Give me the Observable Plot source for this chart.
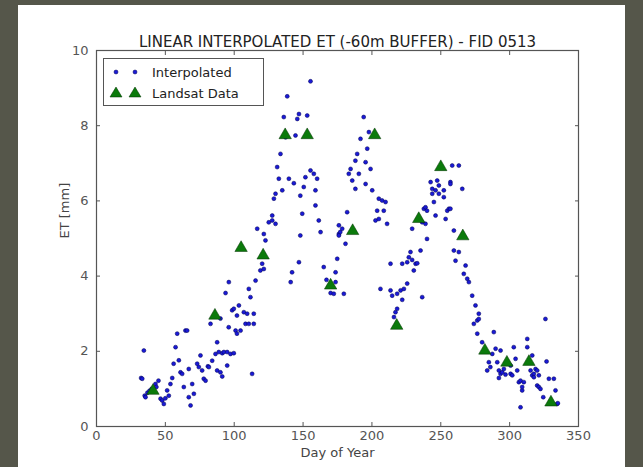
<!DOCTYPE html>
<html>
<head>
<meta charset="utf-8">
<script src="https://cdn.jsdelivr.net/npm/d3@7"></script>
<script src="https://cdn.jsdelivr.net/npm/@observablehq/plot@0.6"></script>
<style>
  html, body { margin: 0; padding: 0; }
  body { width: 643px; height: 467px; background: #55564a; position: relative; overflow: hidden; font-family: "DejaVu Sans", sans-serif; }
  #panel { position: absolute; left: 18px; top: 5px; width: 607px; height: 470px; background: #ffffff; }
  #chart { position: absolute; left: 0; top: 0; }
  #legend { position: absolute; left: 103px; top: 58px; width: 159px; height: 46px; border: 1px solid #555; background: #fff; font-size: 13px; color: #222; }
  #legend .row { position: absolute; left: 0; height: 20px; display: flex; align-items: center; }
  #legend svg { display: block; }
</style>
</head>
<body>
<div id="panel"></div>
<div id="chart"></div>
<div id="legend">
  <div class="row" style="top:3px"><svg width="46" height="20"><circle cx="12" cy="10" r="2" fill="#1a1ad6" stroke="#000050" stroke-width="0.5"/><circle cx="31" cy="10" r="2" fill="#1a1ad6" stroke="#000050" stroke-width="0.5"/></svg><span style="margin-left:2px">Interpolated</span></div>
  <div class="row" style="top:24px"><svg width="46" height="20"><path d="M12,4 L18,14 L6,14 Z" fill="#0b7a0b" stroke="#003000" stroke-width="0.5"/><path d="M31,4 L37,14 L25,14 Z" fill="#0b7a0b" stroke="#003000" stroke-width="0.5"/></svg><span style="margin-left:2px">Landsat Data</span></div>
</div>
<script>
const titleText = "LINEAR INTERPOLATED ET (-60m BUFFER) - FID 0513";
const xLabel = "Day of Year";
const yLabel = "ET [mm]";
const xTicks = [0, 50, 100, 150, 200, 250, 300, 350];
const yTicks = [0, 2, 4, 6, 8, 10];

const landsatDay = [41, 86, 105, 121, 137, 153, 170, 186, 202, 218, 234, 250, 266, 282, 298, 314, 330];
const landsatET  = [0.95, 2.95, 4.75, 4.55, 7.75, 7.75, 3.75, 5.2, 7.75, 2.68, 5.52, 6.9, 5.06, 2.02, 1.7, 1.72, 0.64];

const interpDay = [32.4,33.2,34.4,35,35.6,37,38.5,40,42.8,43.5,45,46.5,47.7,48.9,50,51.3,52.5,53.7,55,56,57.4,58.6,59.8,61,62.2,63.4,64.6,65.8,67,67,68.3,69.5,70.7,73.1,74.3,75.5,76.7,77.9,79.2,80.9,81.6,82.8,84,86.4,87.6,87.6,88.8,90,90,91.3,91.3,92.5,93.7,94.9,94.9,96,96.1,97.3,98.5,99.7,99.7,101,102,102,103.4,104.6,107,108.2,109.4,110.6,110.6,111.8,113,114.2,114.2,115.5,116.7,119,120.3,121.5,121.5,122.7,125.1,127.6,127.6,128.8,130,130,131.2,132.4,133.6,134.9,136,137.3,138.5,139.7,141,142,143.3,144.5,145.8,147,147,148,148,149.4,150.5,151.7,153,155.4,155.4,157.8,159,159,160.2,161.4,162.7,165,167,170,172.3,173.6,173.6,174.8,176,176,177,178.4,176,179.6,180.8,182,183.2,184.5,185.7,188,188,189.3,190.5,191.7,194,195.4,195.4,196.6,197.8,199,200.2,202.6,203.8,205,205,206.2,207.4,208.6,209.9,211,213.5,213.5,214.7,216,217.1,218.3,218.3,220.8,222,222,223.2,225.6,225.6,226.8,228,229.2,229.2,230.4,231.7,232.9,235.3,236.5,236.5,237.7,238.9,238.9,240,240,242.6,243.8,243.8,245,246.2,246.2,247.4,248.6,248.6,252.2,252.2,253.5,254.7,255.9,257,257,257,258.3,259.5,259.5,260.7,263.1,263.1,265.6,266.7,268,269.2,270.4,272.8,274,275.2,276.5,276.5,277.6,277.6,280,283.7,284.9,286,287.4,288.5,289.8,291,292.2,292.2,293.4,293.4,294.6,295.8,297,300.7,300.7,301.9,303,304.3,305.5,306.7,307.9,307.9,309.1,309.1,310.3,312.8,312.8,315.2,316.4,316.4,317.6,317.6,318.8,320,320,321.2,321.2,322.4,324.4,326,326.8,328.5,332.1,333.3,334.5,335];
const interpET  = [1.29,1.27,2.02,0.82,0.78,0.9,0.95,1.0,1.13,1.05,1.22,0.74,0.69,0.6,0.75,0.96,0.82,1.13,1.29,1.67,2.11,2.47,1.76,1.44,1.4,1.05,2.55,2.55,1.53,0.78,0.56,1.13,0.87,1.67,1.58,1.89,1.49,1.27,1.22,1.6,1.58,2.73,1.75,1.93,2.24,1.49,1.98,1.44,2.87,1.95,1.33,1.98,3.55,1.98,1.62,2.64,3.84,1.93,3.09,1.95,3.13,2.55,2.95,2.47,3.22,2.55,3.04,2.73,3.0,2.73,3.66,3.44,1.4,3.0,2.73,3.88,5.26,4.15,4.33,4.19,5.12,4.95,5.43,5.48,5.61,6.06,5.39,6.19,6.9,6.59,7.25,6.28,8.23,7.69,8.78,6.59,3.84,4.1,6.47,7.74,8.18,8.31,4.37,6.14,5.08,5.66,6.37,6.63,8.27,9.18,6.81,6.72,6.28,5.88,6.59,5.48,5.17,4.24,3.9,3.55,3.53,3.84,4.1,4.46,5.12,5.35,5.17,5.26,5.08,3.53,4.86,5.7,6.72,6.85,6.54,7.07,6.32,7.25,6.72,7.65,8.23,7.03,6.45,7.39,7.83,6.85,6.28,5.48,5.74,6.06,5.52,3.66,6.01,5.74,5.97,5.39,4.33,3.62,3.48,2.91,3.04,3.13,3.53,3.62,3.37,4.33,3.66,3.8,4.37,4.5,4.64,4.43,5.26,4.15,4.33,4.34,4.68,3.44,5.43,5.79,5.83,5.39,5.74,4.99,6.5,6.32,6.19,5.97,6.28,5.61,6.54,6.41,6.19,6.28,6.1,5.52,5.74,5.79,6.5,6.45,5.79,6.94,5.21,4.68,4.41,6.94,4.64,6.32,4.06,4.28,3.93,3.84,3.48,2.73,3.22,2.82,2.47,3.0,2.86,2.24,1.49,1.71,1.58,1.93,2.51,2.07,1.71,1.49,1.29,2.02,1.4,1.44,1.53,1.38,1.4,1.62,1.36,2.11,1.8,1.49,1.18,1.22,0.51,0.96,1.05,1.18,2.33,2.11,1.49,1.89,1.36,1.4,1.31,1.53,1.49,1.09,1.36,1.05,1.0,0.78,2.86,1.73,1.27,1.27,0.96,0.6,0.62];

const interp = interpDay.map((d, i) => ({day: d, et: interpET[i]}));
const landsat = landsatDay.map((d, i) => ({day: d, et: landsatET[i]}));

const fontFam = "DejaVu Sans, sans-serif";

const plot = Plot.plot({
  width: 643,
  height: 467,
  marginLeft: 96,
  marginRight: 65,
  marginTop: 50,
  marginBottom: 41,
  style: {background: "transparent", fontFamily: fontFam, fontSize: "13px", color: "#333"},
  x: {domain: [0, 350]},
  y: {domain: [0, 10]},
  marks: [
    Plot.axisX(xTicks, {anchor: "bottom", tickSize: -4, tickPadding: 8, label: null, fontSize: 13, fill: "#555", stroke: "#555"}),
    Plot.axisX(xTicks, {anchor: "top", tickSize: -4, tickFormat: () => "", label: null, stroke: "#555"}),
    Plot.axisY(yTicks, {anchor: "left", tickSize: -4, tickPadding: 12, label: null, fontSize: 13, fill: "#555", stroke: "#555"}),
    Plot.axisY(yTicks, {anchor: "right", tickSize: -4, tickFormat: () => "", label: null, stroke: "#555"}),
    Plot.dot(interp, {x: "day", y: "et", r: 2, fill: "#1a1ad6", stroke: "#000050", strokeWidth: 0.5}),
    Plot.dot(landsat, {x: "day", y: "et", symbol: "triangle", r: 4.6, fill: "#0b7a0b", stroke: "#003000", strokeWidth: 0.5}),
    Plot.frame({stroke: "#555", strokeWidth: 1.2}),
    Plot.text([titleText], {frameAnchor: "top", dy: -4, lineAnchor: "bottom", fontSize: 15, fill: "#222"}),
    Plot.text([xLabel], {frameAnchor: "bottom", dy: 21, lineAnchor: "top", fontSize: 13, fill: "#444"}),
    Plot.text([yLabel], {frameAnchor: "left", dx: -32, rotate: -90, fontSize: 13, fill: "#444"})
  ]
});
document.getElementById("chart").appendChild(plot);
</script>
</body>
</html>
